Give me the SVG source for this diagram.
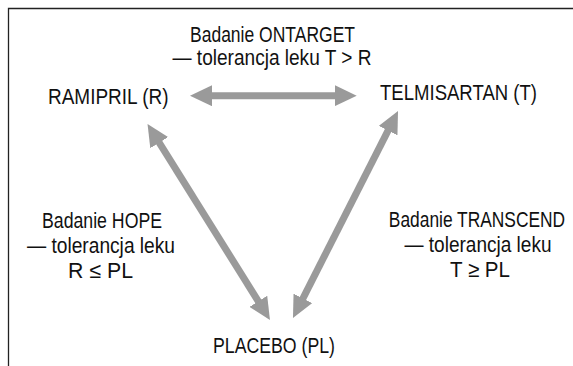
<svg xmlns="http://www.w3.org/2000/svg" width="573" height="366" viewBox="0 0 573 366">
  <style>
    .t { font-family: "Liberation Sans", Arial, sans-serif; font-size: 22px; fill: #111; }
    .m { text-anchor: middle; }
    .arr { stroke: #9a9a9a; stroke-width: 7; fill: none; marker-start: url(#head); marker-end: url(#head); }
  </style>
  <defs>
    <marker id="head" viewBox="0 0 22 21" refX="10" refY="10.5" markerWidth="22" markerHeight="21" markerUnits="userSpaceOnUse" orient="auto-start-reverse">
      <path d="M0,0 L22,10.5 L0,21 z" fill="#9a9a9a"/>
    </marker>
  </defs>
  <rect width="573" height="366" fill="#ffffff"/>
  <path d="M8.5,366 V8.5 H573" fill="none" stroke="#222" stroke-width="1.3"/>
  <g id="connectors">
    <line class="arr" x1="202" y1="95.7" x2="344.7" y2="95.7"/>
    <line class="arr" x1="153.9" y1="134.2" x2="263.6" y2="309.8"/>
    <line class="arr" x1="392.6" y1="121.7" x2="298.4" y2="307.3"/>
  </g>
  <g id="label-ontarget">
    <text class="t m" x="272.5" y="41.5" textLength="165" lengthAdjust="spacingAndGlyphs">Badanie ONTARGET</text>
    <text class="t m" x="272" y="65" textLength="199" lengthAdjust="spacingAndGlyphs">— tolerancja leku T &gt; R</text>
  </g>
  <g id="node-ramipril">
    <text class="t" x="48" y="104" textLength="120.5" lengthAdjust="spacingAndGlyphs">RAMIPRIL (R)</text>
  </g>
  <g id="node-telmisartan">
    <text class="t" x="380" y="100" textLength="157" lengthAdjust="spacingAndGlyphs">TELMISARTAN (T)</text>
  </g>
  <g id="label-hope">
    <text class="t m" x="102" y="228" textLength="120" lengthAdjust="spacingAndGlyphs">Badanie HOPE</text>
    <text class="t m" x="101" y="253" textLength="148" lengthAdjust="spacingAndGlyphs">— tolerancja leku</text>
    <text class="t m" x="100.5" y="278" textLength="65" lengthAdjust="spacingAndGlyphs">R ≤ PL</text>
  </g>
  <g id="label-transcend">
    <text class="t m" transform="translate(477,227) scale(0.79,1)" x="0" y="0">Badanie TRANSCEND</text>
    <text class="t m" x="478" y="252" textLength="147" lengthAdjust="spacingAndGlyphs">— tolerancja leku</text>
    <text class="t m" x="480" y="277" textLength="60" lengthAdjust="spacingAndGlyphs">T ≥ PL</text>
  </g>
  <g id="node-placebo">
    <text class="t m" x="274" y="353" textLength="122" lengthAdjust="spacingAndGlyphs">PLACEBO (PL)</text>
  </g>
</svg>
